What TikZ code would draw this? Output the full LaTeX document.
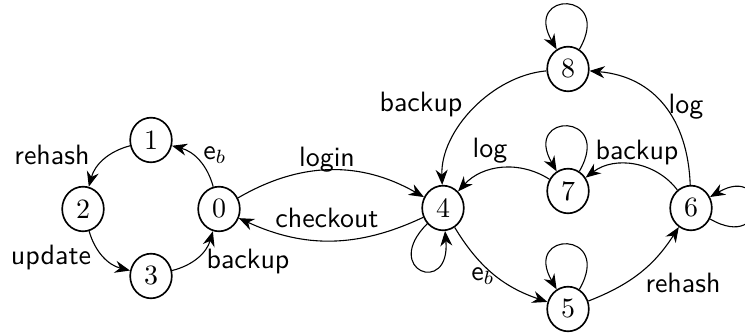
\documentclass[tikz,border=0pt]{standalone}
\usetikzlibrary{arrows.meta,shapes.geometric}
\begin{document}
\begin{tikzpicture}[x=0.365pt,y=0.365pt,
  st/.style={draw, ellipse, line width=0.6pt, minimum width=15.2pt, minimum height=16.3pt, inner sep=0pt, font=\fontsize{10.2}{12}\selectfont},
  tr/.style={-{Stealth[length=5.5pt,width=4.4pt]}, line width=0.4pt},
  lb/.style={font=\fontsize{10.2}{12}\selectfont\sffamily, inner sep=0pt}]
\useasboundingbox (0,0) rectangle (745,333);
% states
\node[st] (n0) at (219,124) {0};
\node[st] (n1) at (151,193) {1};
\node[st] (n2) at (83,124) {2};
\node[st] (n3) at (151,57) {3};
\node[st] (n4) at (443,125) {4};
\node[st] (n5) at (568,24) {5};
\node[st] (n6) at (691,125) {6};
\node[st] (n7) at (568,142) {7};
\node[st] (n8) at (568,264) {8};
% transitions
\draw[tr] (n0) to[bend right=30] (n1);
\draw[tr] (n1) to[bend right=30] (n2);
\draw[tr] (n2) to[bend right=30] (n3);
\draw[tr] (n3) to[bend right=30] (n0);
\draw[tr] (n0) to[bend left=30] (n4);
\draw[tr] (n4) to[bend left=25] (n0);
\draw[tr] (n4) to[out=-135,in=-85,min distance=24pt] (n4);
\draw[tr] (n8) to[out=60,in=120,min distance=25pt] (n8);
\draw[tr] (n7) to[out=60,in=120,min distance=25pt] (n7);
\draw[tr] (n5) to[out=60,in=120,min distance=25pt] (n5);
\draw[tr] (n6) to[out=-30,in=30,min distance=25pt] (n6);
\draw[tr] (n8) to[out=185,in=92,looseness=0.9] (n4);
\draw[tr] (n7) to[bend right=40] (n4);
\draw[tr] (n6) to[out=92,in=-5,looseness=1.1] (n8);
\draw[tr] (n6) to[bend right=45] (n7);
\draw[tr] (n4) to[bend right=20] (n5);
\draw[tr] (n5) to[bend right=18] (n6);
% labels
\node[lb] (l01) at (215,178) {e$_b$};
\node[lb] (l12) at (52,178) {rehash};
\node[lb] (l23) at (51,75) {update};
\node[lb] (l30) at (248,71) {backup};
\node[lb] (l04) at (327,173) {login};
\node[lb] (l40) at (327,115) {checkout};
\node[lb] (l84) at (421,228) {backup};
\node[lb] (l74) at (490,182) {log};
\node[lb] (l67) at (637,180) {backup};
\node[lb] (l68) at (686,226) {log};
\node[lb] (l45) at (483,57) {e$_b$};
\node[lb] (l56) at (683,50) {rehash};
\end{tikzpicture}
\end{document}
